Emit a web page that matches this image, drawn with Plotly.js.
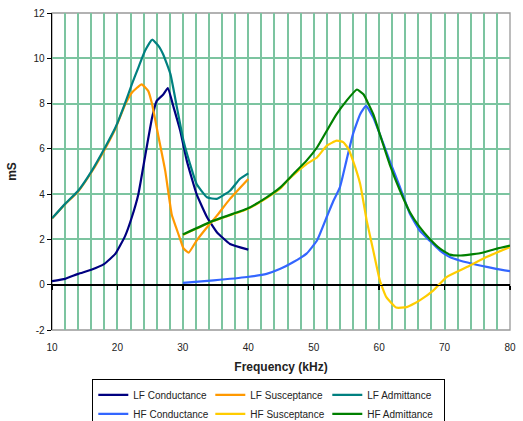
<!DOCTYPE html>
<html>
<head>
<meta charset="utf-8">
<script src="https://cdn.plot.ly/plotly-3.0.1.min.js"></script>
<style>
html,body{margin:0;padding:0;background:#fff;}
#chart{width:523px;height:421px;}
</style>
</head>
<body>
<div id="chart"></div>
<script>
// ---- data (kHz, mS) ----
const lfCondFreq = [10,12,14,16,18,19.7,21.2,22.2,23.2,24.2,25.3,26,27,27.7,28.6,29.6,30.6,32.1,33.7,35.2,37.2,40];
const lfCond     = [0.16,0.26,0.48,0.66,0.92,1.37,2.17,2.98,4.0,5.62,7.38,8.12,8.4,8.68,7.82,6.8,5.48,4.0,2.98,2.32,1.8,1.55];

const lfSuscFreq = [10,12,14,16.1,18.1,19.7,21.2,22.2,23.7,24.7,25.3,26.3,27.3,28.3,29.0,29.6,30.1,30.9,32.1,33.7,35.2,37.2,40];
const lfSusc     = [2.92,3.55,4.12,5.0,6.0,6.9,7.97,8.48,8.85,8.56,7.97,6.5,5.04,3.1,2.5,2.0,1.6,1.42,1.95,2.54,3.05,3.79,4.67];

const lfAdmFreq  = [10,12,14,16.1,18.1,19.7,21.2,22.2,23.2,24.2,25.3,26.3,27.0,28.1,29.1,30.1,31.1,32.1,33.7,35.2,37.2,38.7,40];
const lfAdm      = [2.93,3.57,4.15,5.04,6.06,6.94,8.04,8.85,9.59,10.32,10.82,10.54,10.17,9.3,7.82,6.36,5.33,4.45,3.86,3.79,4.15,4.67,4.92];

const hfCondFreq = [30,34.7,39.8,42.8,44.9,46.9,48.9,50.5,52.0,53.0,54.0,55.0,56.0,57.1,58.0,59.1,60.1,61.6,63.2,64.7,66.2,67.7,69.3,70.8,72.3,75.4,77.9,80];
const hfCond     = [0.08,0.19,0.34,0.48,0.70,1.0,1.37,1.95,3.0,3.7,4.3,5.48,6.65,7.53,7.9,7.38,6.65,5.48,4.3,3.13,2.39,1.95,1.51,1.22,1.07,0.85,0.70,0.6];

const hfSuscFreq = [30,34.7,39.8,42.8,44.9,46.4,48.9,50.5,52.0,53.5,54.5,55.3,56.0,57.1,58.1,59.1,60.1,61.1,62.6,64.2,66.2,68.3,70.3,73.4,76.4,80];
const hfSusc     = [2.2,2.81,3.33,3.83,4.25,4.72,5.33,5.62,6.14,6.36,6.3,6.0,5.48,4.45,2.83,1.51,0.19,-0.55,-1.01,-0.99,-0.69,-0.25,0.34,0.78,1.22,1.66];

const hfAdmFreq  = [30,34.7,39.8,42.8,44.9,46.9,48.9,50.5,52.0,53.5,55.0,56.6,57.6,59.1,60.1,61.6,63.2,64.7,66.2,67.7,69.3,70.8,72.3,75.4,77.9,80];
const hfAdm      = [2.22,2.83,3.35,3.86,4.3,4.89,5.48,6.06,6.8,7.53,8.12,8.62,8.41,7.53,6.65,5.33,4.15,3.2,2.54,2.03,1.59,1.33,1.29,1.39,1.59,1.73];

const seriesNames = ["LF Conductance","LF Susceptance","LF Admittance","HF Conductance","HF Susceptance","HF Admittance"];
const xTickVals = [10,20,30,40,50,60,70,80];
const yTickVals = [-2,0,2,4,6,8,10,12];

const colors = ["#000080","#ff9900","#008080","#3366ff","#ffcc00","#008000"];
const xs = [lfCondFreq,lfSuscFreq,lfAdmFreq,hfCondFreq,hfSuscFreq,hfAdmFreq];
const ys = [lfCond,lfSusc,lfAdm,hfCond,hfSusc,hfAdm];
const axisOf = ['x','x','x','x2','x2','x2'];

const traces = seriesNames.map((n,i)=>({
  type:'scatter', mode:'lines', name:n, x:xs[i], y:ys[i], xaxis:axisOf[i], yaxis:'y',
  line:{color:colors[i], width:2.2, shape:'spline', smoothing:0.4},
  hoverinfo:'skip'
}));

const FAM = '"Liberation Sans", Arial, sans-serif';
const gridColor = '#7cc4a0';

const layout = {
  width:523, height:421,
  margin:{l:52, r:13, t:13, b:91, autoexpand:false},
  paper_bgcolor:'#fff', plot_bgcolor:'#fff',
  font:{family:FAM, size:10, color:'#222'},
  showlegend:true,
  xaxis:{
    range:[10,80], tickvals:xTickVals, ticktext:xTickVals.map(String),
    showgrid:true, gridcolor:gridColor, gridwidth:2,
    minor:{dtick:2, tick0:10, showgrid:true, gridcolor:gridColor, gridwidth:2},
    zeroline:false, showline:false, ticks:'', ticklabelstandoff:10,
    title:{text:'Frequency (kHz)', font:{family:FAM, size:12, color:'#222', weight:'bold'}, standoff:10},
    fixedrange:true, automargin:false
  },
  xaxis2:{
    overlaying:'x', anchor:'free', position:2/14,
    range:[10,80], tickvals:xTickVals, showticklabels:false,
    ticks:'outside', ticklen:4, tickcolor:'#000', tickwidth:1.3,
    showline:true, linecolor:'#000', linewidth:1.3, showgrid:false, zeroline:false,
    fixedrange:true
  },
  yaxis:{
    range:[-2,12], tickvals:yTickVals, ticktext:yTickVals.map(String),
    showgrid:true, gridcolor:gridColor, gridwidth:2,
    zeroline:true, zerolinecolor:'#000', zerolinewidth:1.3,
    showline:true, linecolor:'#000', linewidth:1.3,
    ticks:'outside', ticklen:4, tickcolor:'#000',
    title:{text:'mS', font:{family:FAM, size:12, color:'#222', weight:'bold'}, standoff:14},
    fixedrange:true, automargin:false
  },
  shapes:[{type:'rect', xref:'paper', yref:'paper', x0:0, x1:1, y0:0, y1:1,
           line:{color:'#999999', width:1.3}, layer:'below'}],
  legend:{
    orientation:'h', x:0.088, xanchor:'left', y:-0.156, yanchor:'top',
    bordercolor:'#000', borderwidth:1, bgcolor:'#fff',
    entrywidth:72, entrywidthmode:'pixels',
    font:{family:FAM, size:10, color:'#222'},
    itemwidth:30, tracegroupgap:0
  }
};

Plotly.newPlot('chart', traces, layout, {staticPlot:true, displayModeBar:false});
</script>
</body>
</html>
